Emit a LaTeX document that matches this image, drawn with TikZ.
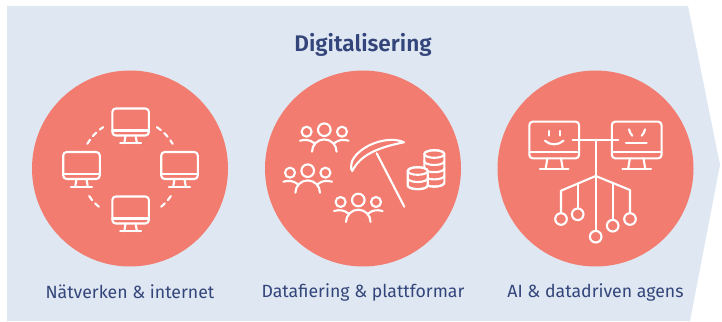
\documentclass[tikz,border=0pt]{standalone}
\usepackage{fontspec}
\setmainfont{Fira Sans}
\newfontfamily\titlefont{Fira Sans SemiBold}
\usetikzlibrary{calc}
\definecolor{bandblue}{HTML}{DFE8F2}
\definecolor{coral}{HTML}{F27C70}
\definecolor{inkblue}{HTML}{33457A}
\tikzset{
  x=1pt,y=1pt,
  disc/.style={shape=circle,fill=coral,inner sep=0pt,minimum size=196pt},
  caption/.style={text=inkblue,font=\fontsize{17.7}{20}\selectfont,inner sep=0pt},
  icon/.style={draw=white,line width=2.1pt,line cap=round,line join=round},
  pics/monitor/.style={code={
    \draw[icon,rounded corners=3.5pt] (-18.3,-13.5) rectangle (18.3,13.5);
    \draw[icon] (-18.3,-8.5) -- (18.3,-8.5);
    \draw[icon] (-5,-13.5) -- (-6.3,-21.3) (5,-13.5) -- (6.3,-21.3);
    \draw[icon] (-10.5,-21.3) -- (10.5,-21.3);
  }},
  pics/people/.style={code={
    \draw[icon] (0,0) circle (6.3);
    \draw[icon] (-17.7,-2) circle (5) (17.7,-2) circle (5);
    \draw[icon] (-12.3,-22) arc (180:0:12.3);
    \draw[icon] (-24.3,-11) .. controls (-19,-9.5) and (-14,-10) .. (-10,-13.5);
    \draw[icon] (24.3,-11) .. controls (19,-9.5) and (14,-10) .. (10,-13.5);
  }},
  pics/coinstack/.style={code={
    \draw[icon,fill=coral] (-10,0) -- (-10,-7.2*#1) arc (180:360:10 and 3.8) -- (10,0) arc (0:180:10 and 3.8) -- cycle;
    \draw[icon] (0,0) ellipse (10 and 3.8);
    \foreach \k in {1,...,#1} {
      \draw[icon] (-10,-7.2*\k) arc (180:360:10 and 3.8);
    }
  }},
}
\begin{document}
\begin{tikzpicture}
  \useasboundingbox (0,0) rectangle (722,321);
  \fill[bandblue] (7,315) -- (688,315) -- (720,156) -- (690,0) -- (7,0) -- cycle;

  \node[text=inkblue,font=\titlefont\fontsize{22.6}{26}\selectfont,inner sep=0pt] (TITLE) at (363,276) {Digitalisering};

  \node[disc] (NET) at (130,152.5) {};
  \node[disc] (DATA) at (363,152.5) {};
  \node[disc] (AI) at (595.5,152.5) {};

  \node[caption] (NETTEXT) at (130,29) {Nätverken \& internet};
  \node[caption] (DATATEXT) at (363,29) {Datafiering \& plattformar};
  \node[caption] (AITEXT) at (595.5,29) {AI \& datadriven agens};

  % network of four screens
  \begin{scope}[shift={(NET.center)}]
    \pic at (0.6,46.5) {monitor};
    \pic at (-48.5,3) {monitor};
    \pic at (49.5,3) {monitor};
    \pic at (0.6,-41.5) {monitor};
    \foreach \a/\b in {150/123,57/30,214/235,326/305} {
      \draw[icon,dash pattern=on 5pt off 4.5pt] (\a:49.3) arc (\a:\b:49.3);
    }
  \end{scope}

  % people, pickaxe and coins
  \begin{scope}[shift={(DATA.center)}]
    \pic at (-38.7,38.8) {people};
    \pic at (-55.3,-2.2) {people};
    \pic at (-4.7,-31.5) {people};
    \draw[icon] (-10.7,7.8) .. controls (-3,23.5) and (25.3,33.5) .. (41,26.2)
      .. controls (15.3,21.2) and (-3,13.5) .. (-10.7,-2.5)
      .. controls (-12.5,-1) and (-12,4) .. cycle;
    \draw[icon] (13.7,15.2) -- (41.3,-38.2);
    \pic at (71.3,14.5) {coinstack=4};
    \pic at (54.7,-2.5) {coinstack=2};
  \end{scope}

  % two faces on one tree
  \begin{scope}[shift={(AI.center)}]
    \pic[scale=1.36] at (-41.3,28.5) {monitor};
    \pic[scale=1.36] at (41.2,28.5) {monitor};
    \draw[icon] (-46.1,37.5) -- (-46.1,32.8) (-35.5,37.5) -- (-35.5,32.8);
    \draw[icon] (-50.5,27.8) .. controls (-46,23) and (-37,23) .. (-32,27.8);
    \draw[icon] (33.5,39.2) .. controls (34.2,36.5) and (35,34.5) .. (36.8,32.8);
    \draw[icon] (49.5,39.2) .. controls (48.8,36.5) and (48,34.5) .. (46.2,32.8);
    \draw[icon] (30.5,25.2) -- (51.2,25.2);

    \coordinate (HUB) at (0.2,-7.5);
    \node[shape=circle,icon,inner sep=0pt,minimum size=11.6pt] (LEAFA) at (-34.5,-50.5) {};
    \node[shape=circle,icon,inner sep=0pt,minimum size=11.6pt] (LEAFB) at (-17.8,-45.8) {};
    \node[shape=circle,icon,inner sep=0pt,minimum size=11.6pt] (LEAFC) at (0.2,-68.2) {};
    \node[shape=circle,icon,inner sep=0pt,minimum size=11.6pt] (LEAFD) at (17.2,-57.2) {};
    \node[shape=circle,icon,inner sep=0pt,minimum size=11.6pt] (LEAFE) at (34.5,-50.5) {};

    \draw[icon] (-22.9,28.8) -- (22.8,28.8);
    \draw[icon] (0.2,28.8) -- (LEAFC);
    \draw[icon] (HUB) -- (-34.5,-22.2) -- (LEAFA);
    \draw[icon] (-17.8,-14.8) -- (LEAFB);
    \draw[icon] (HUB) -- (34.5,-21.5) -- (LEAFE);
    \draw[icon] (17.2,-14.2) -- (LEAFD);
  \end{scope}
\end{tikzpicture}
\end{document}
